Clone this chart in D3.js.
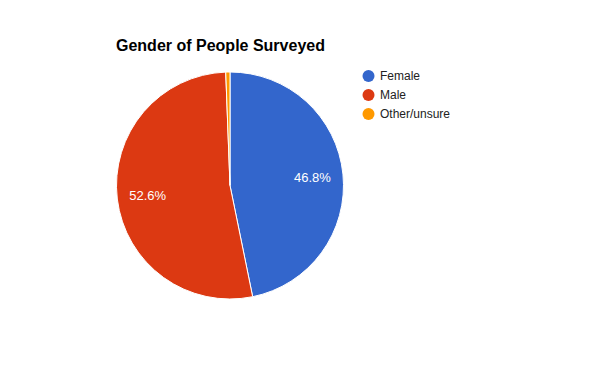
<!DOCTYPE html>
<html><head><meta charset="utf-8">
<script src="https://cdn.jsdelivr.net/npm/d3@7"></script>
<style>body{margin:0;background:#fff}svg{display:block;font-family:Arial,"Liberation Sans",sans-serif}</style>
</head><body><svg id="c" width="600" height="371"></svg>
<script>
const categories = ["Female", "Male", "Other/unsure"];
const values = [46.8, 52.6, 0.6];
const colors = ["#3366cc", "#dc3912", "#ff9900"];
const title = "Gender of People Surveyed";

const svg = d3.select("#c");
const cx = 230, cy = 185.5, r = 113.5;

svg.append("text").attr("x", 116).attr("y", 51)
  .attr("font-size", 16).attr("font-weight", "bold").attr("fill", "#000").text(title);

const pie = d3.pie().sort(null).value(d => d)(values);
const arc = d3.arc().innerRadius(0).outerRadius(r);
const g = svg.append("g").attr("transform", `translate(${cx},${cy})`);
g.selectAll("path").data(pie).join("path")
  .attr("d", arc).attr("fill", (d, i) => colors[i])
  .attr("stroke", "#fff").attr("stroke-width", 1);

const total = d3.sum(values);
const lab = d3.arc().innerRadius(r * 0.73).outerRadius(r * 0.73);
g.selectAll("text.l").data(pie.filter(d => (d.endAngle - d.startAngle) > 0.3)).join("text")
  .attr("class", "l")
  .attr("transform", d => `translate(${lab.centroid(d)})`)
  .attr("text-anchor", "middle").attr("dy", "0.35em")
  .attr("font-size", 13).attr("fill", "#fff")
  .text(d => (d.data / total * 100).toFixed(1) + "%");

const leg = svg.append("g");
const ly = d3.scalePoint().domain(categories).range([76, 114]);
categories.forEach((c, i) => {
  leg.append("circle").attr("cx", 368.5).attr("cy", ly(c)).attr("r", 6).attr("fill", colors[i]);
  leg.append("text").attr("x", 380).attr("y", ly(c)).attr("dy", "0.35em")
    .attr("font-size", 12).attr("fill", "#222").text(c);
});
</script></body></html>
